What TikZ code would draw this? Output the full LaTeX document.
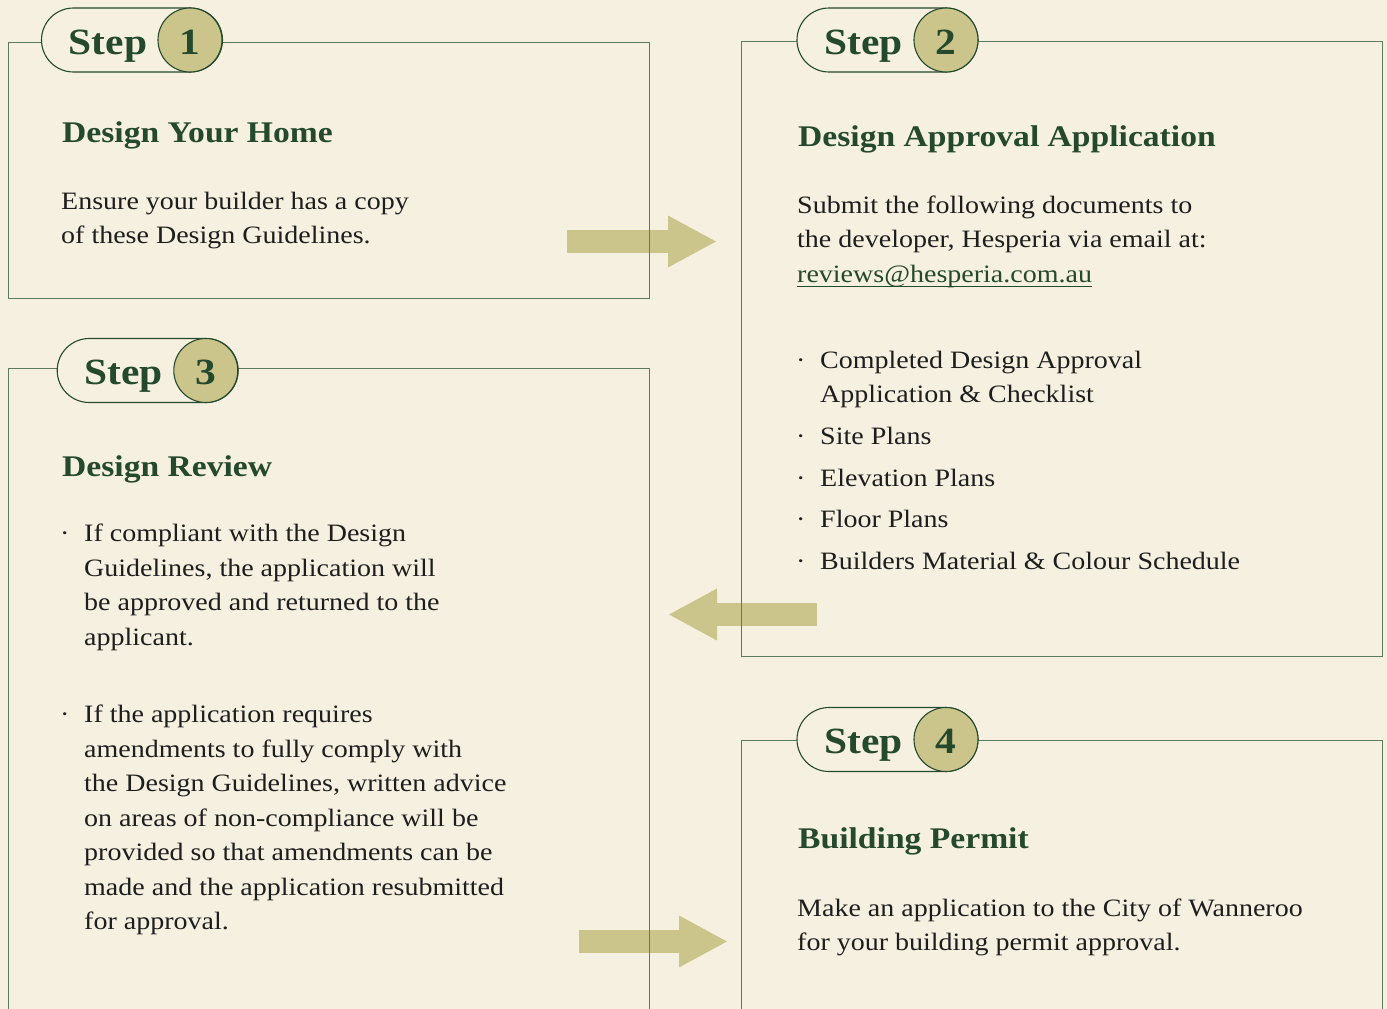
\documentclass[tikz,border=0pt]{standalone}
\usepackage{fontspec}
\setmainfont{Liberation Serif}[FakeStretch=1.12]
\usetikzlibrary{shapes.misc,arrows.meta}
\definecolor{bg}{HTML}{F6F0E1}
\definecolor{dgreen}{HTML}{24492C}
\definecolor{lgreen}{HTML}{5C7A60}
\definecolor{khaki}{HTML}{CCC58B}
\definecolor{ink}{HTML}{1E1E1E}
\newcommand\topstrut{\rule{0pt}{30pt}}
\newcommand\emailul[1]{\setbox0\hbox{#1}\rlap{\rule[-4.5pt]{\wd0}{1.2pt}}\box0}
\newcommand\bul{\makebox[24pt][l]{·}}
\newcommand\ind{\hspace*{24pt}}
\begin{document}
\begin{tikzpicture}[x=1pt,y=-1pt,
  boxst/.style={draw=lgreen, line width=1pt, anchor=north west, inner sep=0, minimum width=641pt},
  pill/.style={rounded rectangle, draw=dgreen, fill=bg, line width=1.1pt, minimum width=181pt, minimum height=64pt, inner sep=0},
  numc/.style={circle, draw=dgreen, fill=khaki, line width=1.1pt, minimum size=64pt, inner sep=0, text height=28pt, text depth=0pt, font=\fontsize{37}{37}\selectfont\bfseries, text=dgreen},
  steplbl/.style={anchor=base west, inner sep=0, font=\fontsize{37}{37}\selectfont\bfseries, text=dgreen},
  head/.style={anchor=base west, inner sep=0, font=\fontsize{30}{30}\selectfont\bfseries, text=dgreen},
  body/.style={anchor=north west, inner sep=0, align=left, font=\fontsize{25}{34.5}\selectfont, text=ink},
  listb/.style={anchor=north west, inner sep=0, align=left, font=\fontsize{25}{33.5}\selectfont, text=ink},
  bigarrow/.style={draw=khaki, line width=23pt, -{Triangle[width=52pt,length=48pt,line width=0pt,fill=khaki]}}
]
\useasboundingbox (0,0) rectangle (1387,1009);
\fill[bg] (0,0) rectangle (1387,1009);
\clip (0,0) rectangle (1387,1009);

% arrows (under the box borders)
\coordinate (a1s) at (567,241.5);
\coordinate (a1e) at (716,241.5);
\coordinate (a2s) at (817,614.5);
\coordinate (a2e) at (669,614.5);
\coordinate (a3s) at (579,941.5);
\coordinate (a3e) at (727,941.5);
\draw[bigarrow] (a1s) -- (a1e);
\draw[bigarrow] (a2s) -- (a2e);
\draw[bigarrow] (a3s) -- (a3e);

% boxes
\node[boxst, minimum height=255.7pt] (b1) at (8.4,42) {};
\node[boxst, minimum height=615.3pt] (b2) at (740.5,40.7) {};
\node[boxst, minimum height=700pt] (b3) at (8.4,368) {};
\node[boxst, minimum height=320pt] (b4) at (740.5,740) {};

% step pills
\node[pill] (p1) at (132,40) {};
\node[numc] (n1) at (190,40) {1};
\node[steplbl] (s1) at (68.6,54) {Step};
\node[pill] (p2) at (887.5,40) {};
\node[numc] (n2) at (946,40) {2};
\node[steplbl] (s2) at (824.3,54) {Step};
\node[pill] (p3) at (147.7,370.5) {};
\node[numc] (n3) at (205.8,370.5) {3};
\node[steplbl] (s3) at (84.3,384.5) {Step};
\node[pill] (p4) at (887.5,739.5) {};
\node[numc] (n4) at (946,739.5) {4};
\node[steplbl] (s4) at (824.3,753.5) {Step};

% box 1
\node[head] (h1) at (62,142.7) {Design Your Home};
\node[body] (t1) at (61,179) {\topstrut Ensure your builder has a copy\\of these Design Guidelines.};

% box 2
\node[head] (h2) at (798,146.7) {Design Approval Application};
\node[body] (t2) at (797,183) {\topstrut Submit the following documents to\\the developer, Hesperia via email at:\\\textcolor{dgreen}{\emailul{reviews@hesperia.com.au}}};
\node[listb] (l2) at (796,338.3) {\topstrut\bul Completed Design Approval\\\ind Application \& Checklist\\[8.8pt]
\bul Site Plans\\[8.2pt]
\bul Elevation Plans\\[8.2pt]
\bul Floor Plans\\[8.3pt]
\bul Builders Material \& Colour Schedule};

% box 3
\node[head] (h3) at (62,476.7) {Design Review};
\node[body] (l3a) at (60,511.7) {\topstrut\bul If compliant with the Design\\\ind Guidelines, the application will\\\ind be approved and returned to the\\\ind applicant.};
\node[body] (l3b) at (60,692.7) {\topstrut\bul If the application requires\\\ind amendments to fully comply with\\\ind the Design Guidelines, written advice\\\ind on areas of non-compliance will be\\\ind provided so that amendments can be\\\ind made and the application resubmitted\\\ind for approval.};

% box 4
\node[head] (h4) at (798,848) {Building Permit};
\node[body] (t4) at (797,886) {\topstrut Make an application to the City of Wanneroo\\for your building permit approval.};
\end{tikzpicture}
\end{document}
